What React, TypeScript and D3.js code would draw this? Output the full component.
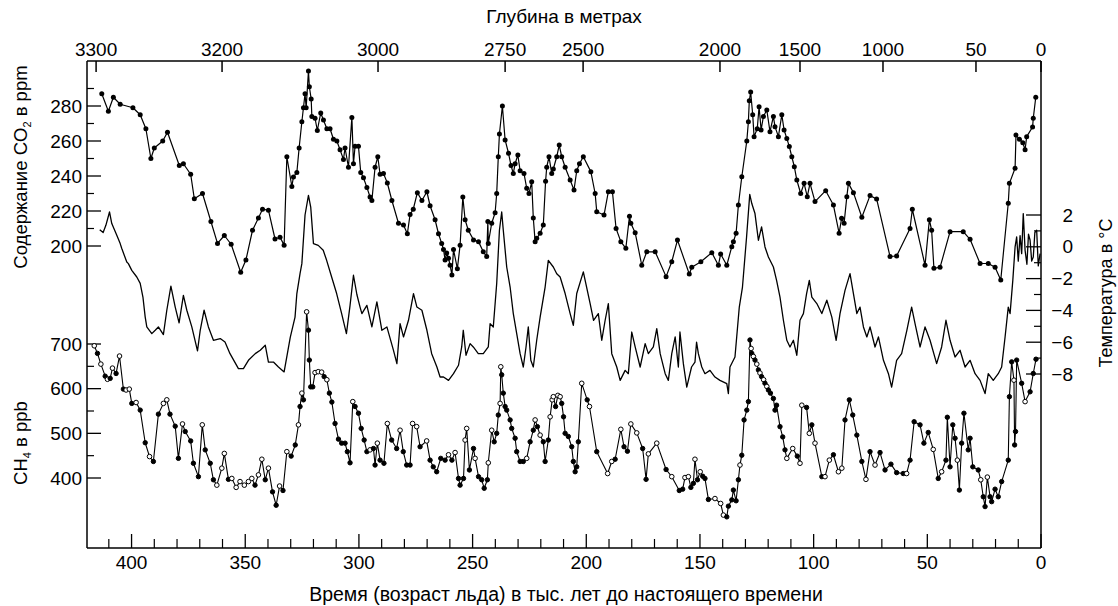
import React from "react";
import * as d3 from "d3";

// ---- axis tick data ----
const ageTicks = [400, 350, 300, 250, 200, 150, 100, 50, 0];
const ageMinorTicks = [410, 390, 380, 370, 360, 340, 330, 320, 310, 290, 280, 270, 260, 240, 230, 220, 210, 190, 180, 170, 160, 140, 130, 120, 110, 90, 80, 70, 60, 40, 30, 20, 10];
const depthLabels = ["3300", "3200", "3000", "2750", "2500", "2000", "1500", "1000", "50", "0"];
const depthAges = [415.6, 360.2, 291.6, 235.7, 201.4, 141.2, 106.0, 69.5, 28.6, 0];
const co2Ticks = [200, 220, 240, 260, 280];
const co2Minor = [210, 230, 250, 270, 290];
const tempTicks = [2, 0, -2, -4, -6, -8];
const tempMinor = [1, -1, -3, -5, -7];
const ch4Ticks = [400, 500, 600, 700];
const ch4Minor = [450, 550, 650];

// ---- CO2 (ppm) ----
const co2Age = [413.1, 410.2, 408.0, 405.0, 399.4, 396.2, 393.7, 391.5, 390.0, 386.3, 384.2, 379.0, 377.2, 374.0, 372.4, 368.8, 365.1, 362.2, 359.2, 356.2, 352.0, 349.7, 346.8, 344.2, 342.4, 339.8, 336.9, 334.7, 332.9, 331.7, 329.5, 328.8, 327.3, 326.3, 325.1, 324.4, 323.7, 323.2, 322.2, 321.8, 321.0, 320.7, 319.3, 318.3, 316.8, 315.6, 314.1, 312.7, 311.2, 309.7, 308.3, 306.8, 306.1, 304.6, 303.1, 302.4, 301.7, 300.2, 299.2, 298.0, 296.5, 295.1, 294.3, 292.9, 291.7, 290.7, 289.2, 287.5, 285.5, 282.6, 280.4, 278.7, 277.5, 276.1, 274.3, 272.3, 270.1, 268.7, 266.5, 265.0, 263.6, 262.8, 262.1, 261.4, 260.6, 259.9, 259.1, 258.4, 256.7, 255.5, 254.3, 253.3, 251.9, 249.6, 247.4, 245.3, 243.8, 243.3, 243.1, 241.6, 240.1, 239.4, 238.7, 238.2, 236.9, 235.7, 234.2, 233.1, 232.1, 231.3, 230.1, 229.1, 227.4, 226.2, 225.2, 224.0, 223.3, 222.5, 221.8, 220.3, 218.9, 217.9, 217.4, 216.4, 215.2, 214.5, 213.0, 211.9, 210.8, 209.3, 207.1, 205.4, 204.2, 203.0, 201.3, 198.0, 196.1, 195.4, 192.2, 190.3, 188.5, 186.9, 184.8, 182.6, 181.0, 180.4, 178.5, 175.6, 173.4, 169.7, 164.9, 162.4, 159.9, 154.7, 153.6, 149.6, 144.8, 141.9, 140.9, 138.2, 136.0, 135.3, 134.1, 133.1, 131.6, 129.4, 128.7, 128.3, 127.7, 126.8, 126.2, 124.8, 124.0, 123.1, 122.1, 120.6, 119.2, 117.7, 117.0, 115.5, 114.0, 113.0, 111.8, 110.7, 109.6, 108.5, 107.4, 105.7, 104.2, 102.8, 101.6, 99.4, 94.7, 91.3, 88.8, 87.7, 86.6, 85.4, 84.7, 82.5, 78.8, 75.2, 72.3, 66.4, 63.5, 57.6, 56.6, 51.0, 49.1, 48.1, 47.1, 44.4, 40.0, 34.2, 31.2, 26.8, 23.2, 20.2, 17.7, 14.4, 13.9, 11.4, 11.0, 9.5, 8.0, 7.0, 6.3, 3.7, 3.4, 2.3];
const co2Val = [287, 277, 285, 281, 279, 275, 267, 250, 256, 260, 265, 246, 247, 241, 227, 230, 214, 201.5, 206, 201, 185, 192, 209, 216, 221, 220.5, 204, 205, 200.5, 251, 234, 239.5, 242, 256, 271, 279, 287, 279, 300, 291, 284, 274, 273, 266, 276, 272, 267, 267, 261, 260, 255, 249.5, 256, 245, 273.5, 247, 257, 257, 242, 239, 233.5, 228, 226, 245, 251, 241, 241.5, 236, 226, 213, 212, 207, 218, 221, 230.5, 226, 231, 223, 215, 207, 201.5, 198, 192, 196, 193, 189, 183.5, 198, 187, 200.5, 228, 215, 209, 203.5, 202.5, 196.7, 194, 214, 201.5, 213, 219, 230, 251, 264, 280, 260.6, 253, 246, 241.5, 247, 252, 243, 241.5, 233, 230, 236.7, 216, 202.5, 204.4, 207.3, 212, 237, 245, 251, 241.5, 244, 251, 257.7, 251, 245, 237.7, 232, 243, 247, 251, 242.5, 230, 219.6, 217.7, 231, 231, 210, 202.5, 198.7, 217, 213, 207.6, 189, 196.7, 196.7, 182.5, 191, 203.4, 184, 187.8, 191, 196.2, 189, 195.4, 189, 199.6, 202.5, 207.3, 223.4, 239.6, 260, 271, 283, 288, 275, 262.5, 267, 279.6, 266.3, 274, 277.7, 265.3, 274, 268.2, 262.5, 275, 266.3, 261.5, 256.8, 251, 245.3, 237.7, 230, 235.8, 228.2, 235.8, 225.4, 231.6, 223.4, 207.3, 215.8, 213, 228.2, 235.8, 230.5, 216.4, 228.8, 226.9, 194, 194.3, 210, 221, 189, 215, 209, 187.3, 187.8, 208.2, 208.2, 203.8, 190, 190, 187.8, 180.6, 224.4, 235.8, 244.4, 263.4, 261, 259, 255, 262.5, 268, 273, 285];

// ---- Temperature (deg C) ----
const tempAge = [414.0, 412.5, 411.3, 409.7, 408.7, 406.5, 405.0, 404.3, 402.1, 401.4, 399.9, 397.7, 396.2, 395.0, 394.0, 393.3, 391.1, 389.6, 388.2, 386.0, 384.5, 382.7, 380.8, 379.1, 377.2, 375.7, 373.5, 371.0, 369.8, 368.1, 366.2, 364.0, 361.0, 358.9, 356.7, 353.0, 350.8, 348.6, 345.6, 343.4, 341.2, 339.8, 337.6, 335.4, 332.9, 330.2, 328.1, 327.3, 325.9, 325.1, 323.7, 322.2, 321.2, 320.0, 317.9, 315.7, 314.2, 312.0, 309.8, 307.6, 305.5, 303.9, 302.4, 300.9, 299.5, 298.7, 296.5, 294.3, 292.1, 289.9, 287.7, 284.8, 283.3, 281.9, 280.4, 278.2, 276.0, 274.5, 272.3, 270.1, 268.0, 265.7, 264.3, 262.8, 260.6, 258.4, 256.2, 254.8, 254.1, 252.9, 251.1, 249.7, 247.5, 245.3, 243.1, 242.3, 240.9, 239.4, 238.2, 237.2, 236.5, 235.0, 233.5, 232.1, 230.6, 229.1, 227.7, 226.5, 225.5, 224.4, 223.3, 221.8, 220.3, 218.1, 216.7, 214.5, 213.0, 211.5, 209.3, 207.1, 205.7, 204.2, 201.3, 198.3, 196.8, 194.7, 193.2, 191.7, 190.3, 188.8, 186.6, 185.1, 182.9, 181.5, 180.0, 178.5, 176.3, 174.1, 172.7, 170.5, 169.0, 167.5, 165.3, 163.9, 162.4, 160.9, 159.5, 158.8, 157.3, 155.8, 153.7, 152.2, 151.5, 150.7, 149.2, 147.8, 145.6, 143.4, 141.2, 138.2, 137.5, 136.8, 134.6, 132.7, 131.3, 129.5, 128.1, 127.2, 125.8, 124.3, 122.9, 121.4, 119.9, 117.7, 116.3, 114.8, 113.3, 111.8, 110.4, 108.9, 107.4, 106.0, 104.5, 103.1, 101.9, 100.8, 98.6, 96.4, 94.2, 92.0, 90.1, 88.4, 86.2, 84.0, 82.5, 81.0, 79.6, 78.1, 76.6, 75.2, 73.0, 71.5, 69.3, 67.1, 65.7, 63.5, 61.3, 59.0, 56.9, 55.4, 53.2, 51.0, 48.8, 45.9, 43.7, 41.8, 40.0, 37.8, 35.6, 33.4, 31.2, 29.0, 26.8, 24.6, 23.2, 21.0, 18.8, 17.3, 15.8, 14.4, 13.6, 12.4, 11.4, 10.7, 10.0, 9.2, 8.5, 7.8, 7.0, 6.2, 5.5, 4.8, 4.1, 3.4, 2.7, 1.9, 1.2, 0.4];
const tempVal = [1.08, 0.9, 1.35, 2.19, 1.46, 0.72, 0.2, -0.11, -0.96, -1.06, -1.48, -1.9, -2.3, -3.16, -4.42, -5.04, -5.46, -5.25, -5.04, -5.52, -3.99, -2.47, -3.79, -4.79, -3.05, -3.99, -5.04, -6.55, -5.25, -3.99, -5.04, -5.88, -5.77, -5.99, -6.72, -7.66, -7.66, -7.14, -6.72, -6.51, -6.19, -7.25, -7.25, -7.56, -7.87, -5.7, -4.42, -2.94, -1.69, -1.06, 2.0, 3.24, 2.5, 0.2, 0.09, -0.22, -0.85, -1.9, -2.94, -4.2, -5.46, -3.68, -1.79, -3.0, -3.79, -4.2, -3.68, -5.04, -3.47, -5.25, -5.04, -6.51, -7.35, -4.83, -5.67, -4.62, -2.94, -3.79, -3.99, -5.25, -6.72, -7.56, -8.19, -8.19, -8.4, -7.98, -7.45, -6.3, -5.25, -6.82, -6.09, -6.3, -6.72, -6.72, -6.3, -4.83, -5.04, -2.31, 1.04, 2.19, 1.04, -1.27, -2.53, -4.2, -5.46, -6.72, -7.56, -6.3, -5.04, -7.14, -7.56, -5.88, -4.42, -2.53, -0.85, -1.27, -1.69, -1.9, -2.94, -4.2, -4.94, -2.94, -1.58, -3.57, -4.62, -4.2, -5.88, -4.62, -3.57, -6.72, -7.56, -8.4, -7.77, -7.98, -5.36, -6.3, -7.56, -6.09, -6.72, -6.3, -5.15, -6.72, -7.98, -8.4, -6.72, -5.67, -7.56, -5.36, -7.35, -8.82, -7.56, -7.25, -6.0, -6.72, -7.56, -7.98, -7.77, -8.19, -8.4, -8.61, -9.23, -7.56, -6.93, -3.79, -2.53, 0.62, 3.3, 2.72, 2.09, 0.41, 1.25, -0.01, -0.64, -1.27, -2.11, -3.16, -4.62, -5.88, -6.3, -5.88, -6.82, -4.62, -4.2, -2.94, -2.11, -3.16, -3.57, -4.2, -3.36, -4.42, -5.88, -4.2, -2.74, -1.69, -2.94, -4.2, -3.79, -5.04, -5.67, -5.04, -6.3, -5.67, -7.14, -7.98, -8.82, -7.14, -6.72, -5.25, -3.79, -4.83, -6.3, -5.04, -5.88, -7.35, -6.3, -4.62, -5.88, -6.93, -6.51, -7.56, -7.14, -7.98, -8.4, -9.23, -7.98, -8.4, -7.98, -7.56, -5.67, -3.79, -4.2, -2.11, -0.01, 0.62, -0.9, 0.7, -0.43, 2.09, -0.22, -1.1, 0.8, 0.41, -0.9, -0.64, 0.9, 1.04, -1.2, -0.43];

// ---- CH4 (ppb); open = 1 for open circle markers ----
const ch4Age = [416.4, 415.0, 413.5, 411.6, 410.6, 409.4, 408.4, 406.8, 405.3, 403.6, 402.4, 401.0, 399.9, 398.0, 396.2, 394.0, 392.1, 390.4, 388.2, 386.0, 384.5, 383.1, 380.8, 379.4, 377.6, 376.4, 374.0, 372.8, 370.6, 368.9, 367.6, 365.4, 364.0, 362.5, 360.3, 359.2, 357.4, 355.9, 354.0, 352.3, 350.4, 348.6, 347.1, 345.7, 344.2, 342.7, 341.2, 339.8, 338.0, 336.4, 334.9, 333.4, 331.7, 329.8, 328.0, 326.6, 325.9, 325.1, 324.4, 323.0, 322.2, 321.8, 321.2, 320.3, 319.3, 317.9, 316.4, 315.3, 314.1, 313.0, 311.9, 310.5, 309.0, 307.6, 306.1, 305.1, 303.9, 302.7, 301.7, 300.2, 299.0, 297.7, 296.5, 295.1, 293.6, 292.9, 291.9, 290.7, 289.0, 287.5, 285.6, 283.4, 281.9, 280.5, 279.0, 277.5, 276.4, 274.6, 273.1, 270.2, 268.7, 267.3, 265.8, 264.0, 262.1, 260.6, 259.1, 257.7, 256.2, 255.5, 254.0, 253.3, 252.6, 251.4, 249.6, 248.9, 247.4, 246.0, 244.9, 243.5, 243.1, 241.6, 240.5, 239.4, 238.7, 237.9, 237.6, 237.2, 236.5, 235.7, 235.0, 233.5, 232.8, 231.3, 230.6, 229.1, 227.7, 226.2, 224.7, 223.3, 222.5, 221.5, 220.3, 218.9, 218.1, 216.7, 215.9, 215.0, 214.5, 213.5, 212.5, 211.5, 210.8, 210.0, 209.3, 207.9, 206.4, 205.7, 204.9, 204.2, 203.5, 202.0, 199.6, 198.6, 195.4, 190.6, 188.8, 187.3, 184.8, 183.4, 181.9, 180.4, 177.8, 175.2, 173.7, 172.7, 169.0, 164.9, 162.4, 159.1, 157.6, 156.6, 155.1, 154.0, 152.9, 152.2, 151.1, 149.9, 148.8, 147.8, 146.3, 143.4, 140.9, 139.7, 138.2, 137.5, 136.0, 135.3, 134.1, 133.1, 132.4, 131.6, 130.6, 129.4, 128.7, 128.0, 127.5, 127.2, 126.5, 125.8, 125.0, 124.3, 123.6, 122.9, 122.0, 121.4, 120.6, 119.9, 119.0, 117.7, 117.0, 116.3, 114.8, 113.6, 112.6, 111.8, 109.2, 107.2, 106.0, 105.2, 103.1, 101.9, 100.8, 99.4, 96.4, 95.0, 93.1, 91.3, 89.1, 87.6, 86.2, 84.3, 82.8, 81.0, 78.8, 77.0, 75.2, 73.0, 70.8, 68.6, 66.0, 63.5, 60.6, 59.1, 57.6, 55.8, 53.2, 51.5, 49.6, 47.4, 45.2, 43.7, 41.8, 41.2, 40.0, 38.8, 37.8, 36.8, 35.9, 34.9, 33.9, 32.0, 31.2, 30.0, 27.6, 26.5, 25.4, 24.6, 23.6, 22.4, 21.7, 20.2, 18.8, 17.3, 14.4, 13.9, 12.9, 11.9, 11.6, 11.2, 10.7, 8.5, 7.0, 4.8, 3.4, 2.2];
const ch4Val = [696, 679, 655, 628, 621, 623, 646, 634, 673, 599, 597, 599, 567, 569, 552, 479, 448, 437, 543, 567, 575, 543, 516, 444, 521, 504, 483, 433, 403, 519, 463, 433, 396, 384, 422, 455, 397, 399, 379, 392, 384, 392, 399, 384, 407, 442, 396, 422, 369, 339, 382, 372, 459, 449, 474, 519, 560, 590, 575, 772, 731, 664, 604, 604, 636, 638, 637, 627, 620, 590, 570, 522, 487, 478, 478, 459, 434, 571, 560, 545, 511, 485, 459, 463, 466, 429, 478, 440, 433, 522, 485, 466, 507, 459, 429, 429, 522, 515, 470, 483, 440, 425, 414, 444, 440, 452, 440, 457, 399, 384, 399, 485, 511, 418, 466, 444, 403, 396, 377, 396, 434, 507, 481, 500, 541, 567, 649, 631, 590, 560, 552, 530, 511, 489, 459, 437, 437, 444, 481, 507, 530, 515, 496, 481, 437, 485, 537, 575, 582, 560, 585, 582, 567, 537, 500, 493, 470, 437, 414, 425, 481, 612, 575, 560, 459, 410, 437, 442, 509, 470, 460, 521, 501, 466, 397, 454, 478, 419, 403, 372, 375, 401, 403, 379, 388, 442, 396, 414, 404, 399, 352, 354, 343, 317, 313, 337, 351, 373, 349, 396, 429, 451, 530, 552, 571, 709, 690, 679, 672, 664, 655, 642, 635, 627, 620, 612, 605, 597, 590, 578, 552, 563, 515, 492, 463, 444, 466, 449, 433, 563, 558, 500, 519, 478, 403, 403, 440, 452, 414, 422, 530, 575, 541, 496, 437, 397, 459, 429, 457, 418, 431, 412, 410, 410, 440, 526, 519, 478, 502, 464, 399, 414, 440, 536, 425, 519, 489, 440, 373, 478, 545, 463, 489, 425, 418, 396, 358, 336, 402, 358, 347, 375, 358, 392, 440, 582, 660, 619, 474, 504, 664, 612, 571, 593, 634, 666];
const ch4Open = [1, 0, 1, 0, 1, 0, 1, 0, 1, 0, 1, 1, 0, 1, 0, 0, 1, 0, 0, 1, 1, 0, 0, 0, 1, 0, 0, 0, 0, 1, 0, 0, 0, 1, 1, 1, 0, 1, 1, 1, 1, 1, 1, 0, 1, 1, 0, 1, 0, 0, 1, 0, 1, 0, 0, 1, 0, 1, 0, 1, 0, 0, 0, 0, 1, 1, 1, 0, 1, 0, 0, 0, 0, 0, 0, 0, 0, 1, 0, 0, 0, 0, 0, 1, 0, 0, 1, 0, 0, 1, 0, 0, 1, 0, 0, 0, 1, 1, 0, 1, 0, 0, 0, 0, 0, 1, 0, 1, 0, 0, 0, 1, 1, 0, 0, 1, 0, 0, 0, 0, 1, 1, 0, 0, 0, 1, 1, 0, 0, 0, 0, 0, 0, 0, 0, 0, 0, 1, 0, 0, 1, 0, 1, 0, 0, 0, 1, 1, 1, 0, 1, 1, 0, 0, 0, 0, 0, 0, 0, 0, 0, 1, 0, 1, 0, 1, 1, 0, 1, 0, 0, 1, 1, 0, 0, 1, 1, 0, 1, 0, 0, 1, 1, 0, 0, 1, 0, 1, 0, 0, 0, 1, 1, 1, 0, 0, 0, 0, 0, 0, 1, 0, 0, 0, 0, 0, 1, 0, 1, 0, 1, 0, 1, 0, 1, 0, 1, 0, 0, 0, 0, 0, 0, 0, 0, 1, 1, 0, 1, 1, 0, 1, 0, 1, 0, 1, 1, 0, 1, 1, 0, 0, 0, 0, 0, 1, 0, 1, 0, 0, 0, 0, 0, 1, 0, 0, 0, 0, 0, 1, 0, 1, 0, 0, 0, 0, 0, 1, 0, 0, 0, 0, 0, 0, 0, 1, 0, 0, 1, 0, 0, 0, 0, 0, 0, 0, 0, 1, 0, 0, 0, 0, 1];

const FONT = "'Liberation Sans', Arial, Helvetica, sans-serif";

export default function App() {
  const W = 1118, H = 606;
  const L = 87, R = 1041, T = 61, B = 548;
  const x = d3.scaleLinear().domain([419.6, 0]).range([L, R]);
  const yCO2 = d3.scaleLinear().domain([200, 280]).range([246, 106]);
  const yTemp = d3.scaleLinear().domain([-8, 2]).range([374, 215]);
  const yCH4 = d3.scaleLinear().domain([400, 700]).range([478, 344]);

  const co2 = co2Age.map((a, i) => [a, co2Val[i]] as [number, number]);
  const temp = tempAge.map((a, i) => [a, tempVal[i]] as [number, number]);
  const ch4 = ch4Age.map((a, i) => [a, ch4Val[i], ch4Open[i] ?? 0] as [number, number, number]);

  const lineCO2 = d3.line<[number, number]>().x(d => x(d[0])).y(d => yCO2(d[1]))(co2) || "";
  const lineTemp = d3.line<[number, number]>().x(d => x(d[0])).y(d => yTemp(d[1]))(temp) || "";
  const lineCH4 = d3.line<[number, number, number]>().x(d => x(d[0])).y(d => yCH4(d[1]))(ch4) || "";

  const fs = 19;
  return (
    <svg width={W} height={H} style={{ position: "absolute", left: 0, top: 0, background: "#fff" }} fontFamily={FONT}>
      <rect x={0} y={0} width={W} height={H} fill="#fff" />
      {/* frame */}
      <line x1={L} y1={T} x2={R} y2={T} stroke="#000" strokeWidth={1.5} />
      <line x1={L} y1={B} x2={R} y2={B} stroke="#000" strokeWidth={1.5} />
      <line x1={L} y1={T} x2={L} y2={B} stroke="#000" strokeWidth={1.5} />
      <line x1={R} y1={T} x2={R} y2={B} stroke="#000" strokeWidth={1.5} />

      {/* top depth axis */}
      {depthAges.map((a, i) => (
        <g key={"d" + i}>
          <line x1={x(a)} y1={T} x2={x(a)} y2={T + 11} stroke="#000" strokeWidth={1.5} />
          <text x={x(a)} y={56} textAnchor="middle" fontSize={fs}>{depthLabels[i]}</text>
        </g>
      ))}
      <text x={564} y={23} textAnchor="middle" fontSize={fs}>Глубина в метрах</text>

      {/* bottom age axis */}
      {ageTicks.map(a => (
        <g key={"a" + a}>
          <line x1={x(a)} y1={B} x2={x(a)} y2={B - 14} stroke="#000" strokeWidth={1.3} />
          <text x={x(a)} y={569} textAnchor="middle" fontSize={fs}>{a}</text>
        </g>
      ))}
      {ageMinorTicks.map(a => (
        <line key={"am" + a} x1={x(a)} y1={B} x2={x(a)} y2={B - 9} stroke="#000" strokeWidth={1.2} />
      ))}
      <text x={566} y={601} textAnchor="middle" fontSize={19.5}>Время (возраст льда) в тыс. лет до настоящего времени</text>

      {/* CO2 axis */}
      {co2Ticks.map(v => (
        <g key={"c" + v}>
          <line x1={L} y1={yCO2(v)} x2={L + 14} y2={yCO2(v)} stroke="#000" strokeWidth={1.3} />
          <text x={82} y={yCO2(v) + 6.5} textAnchor="end" fontSize={fs}>{v}</text>
        </g>
      ))}
      {co2Minor.map(v => (
        <line key={"cm" + v} x1={L} y1={yCO2(v)} x2={L + 7} y2={yCO2(v)} stroke="#000" strokeWidth={1.2} />
      ))}
      <text transform="translate(27,167) rotate(-90)" textAnchor="middle" fontSize={18.5}>
        Содержание CO<tspan dy={4} fontSize={11}>2</tspan><tspan dy={-4}> в ppm</tspan>
      </text>

      {/* CH4 axis */}
      {ch4Ticks.map(v => (
        <g key={"m" + v}>
          <line x1={L} y1={yCH4(v)} x2={L + 14} y2={yCH4(v)} stroke="#000" strokeWidth={1.3} />
          <text x={82} y={yCH4(v) + 6.5} textAnchor="end" fontSize={fs}>{v}</text>
        </g>
      ))}
      {ch4Minor.map(v => (
        <line key={"mm" + v} x1={L} y1={yCH4(v)} x2={L + 7} y2={yCH4(v)} stroke="#000" strokeWidth={1.2} />
      ))}
      <text transform="translate(27,443) rotate(-90)" textAnchor="middle" fontSize={18.5}>
        CH<tspan dy={4} fontSize={11}>4</tspan><tspan dy={-4}> в ppb</tspan>
      </text>

      {/* temperature axis */}
      {tempTicks.map(v => (
        <g key={"t" + v}>
          <line x1={R - 15} y1={yTemp(v)} x2={R} y2={yTemp(v)} stroke="#000" strokeWidth={1.3} />
          <text x={1073} y={yTemp(v) + 6.5} textAnchor="end" fontSize={fs}>{v < 0 ? "\u2212" + Math.abs(v) : String(v)}</text>
        </g>
      ))}
      {tempMinor.map(v => (
        <line key={"tm" + v} x1={R - 7} y1={yTemp(v)} x2={R} y2={yTemp(v)} stroke="#000" strokeWidth={1.2} />
      ))}
      <text transform="translate(1112,293) rotate(-90)" textAnchor="middle" fontSize={18}>Температура в °C</text>

      {/* series */}
      <path d={lineTemp} fill="none" stroke="#000" strokeWidth={1.3} strokeLinejoin="round" />
      <path d={lineCO2} fill="none" stroke="#000" strokeWidth={1.2} strokeLinejoin="round" />
      {co2.map((d, i) => (
        <circle key={"cp" + i} cx={x(d[0])} cy={yCO2(d[1])} r={2.5} fill="#000" />
      ))}
      <path d={lineCH4} fill="none" stroke="#000" strokeWidth={1.1} strokeLinejoin="round" />
      {ch4.map((d, i) => (
        <circle key={"mp" + i} cx={x(d[0])} cy={yCH4(d[1])} r={d[2] ? 2.3 : 2.2}
          fill={d[2] ? "#fff" : "#000"} stroke="#000" strokeWidth={1} />
      ))}
    </svg>
  );
}
